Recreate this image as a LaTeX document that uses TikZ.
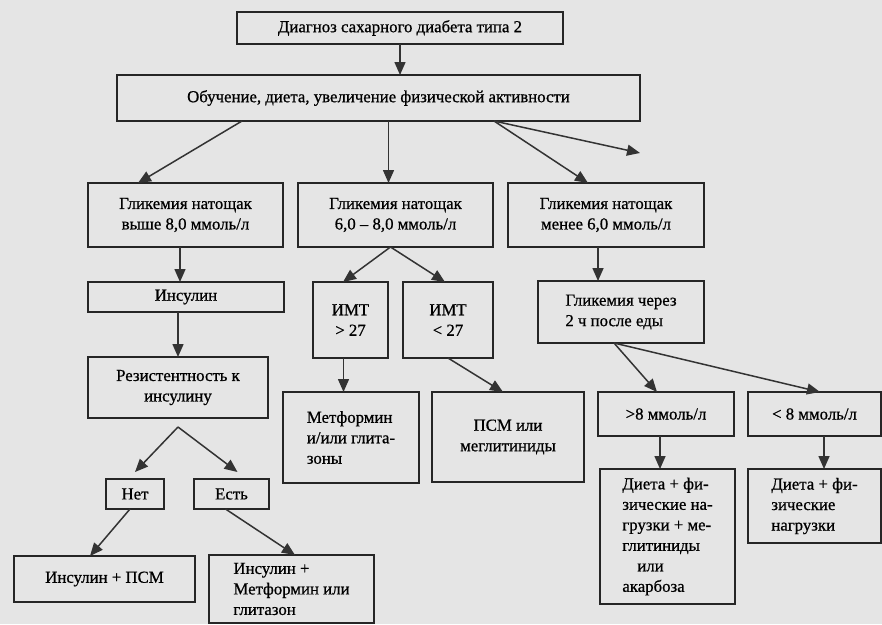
\documentclass[tikz,border=0pt]{standalone}
\usepackage{fontspec}
\setmainfont{Liberation Serif}
\newfontfamily\scanfont{Liberation Serif}[FakeBold=0.7,Ligatures=TeX]
\usetikzlibrary{arrows.meta}

\begin{document}
\begin{tikzpicture}
[x=1pt,y=-1pt,
  boxDecorate/.style={shape=rectangle,draw=black!85,line width=1.5pt,inner sep=2pt,outer sep=0pt,align=center,font=\scanfont\fontsize{16.8}{20.5}\selectfont},
  arrowDecorate/.style={-{Triangle[length=13pt,width=11pt]},line width=1.5pt,draw=black!80}]
%% page
\fill[black!10] (0,0) rectangle (882,624);
\useasboundingbox (0,0) rectangle (882,624);
%% boxes
\node (diag) at (400,28) [boxDecorate,minimum width=326pt,minimum height=32pt] {Диагноз сахарного диабета типа 2};
\node (obuch) at (378.5,98) [boxDecorate,minimum width=523pt,minimum height=46pt] {Обучение, диета, увеличение физической активности};
\node (glA) at (185.5,215) [boxDecorate,minimum width=195pt,minimum height=64pt] {Гликемия натощак\\выше 8,0 ммоль/л};
\node (glB) at (395.5,215) [boxDecorate,minimum width=195pt,minimum height=64pt] {Гликемия натощак\\6,0 – 8,0 ммоль/л};
\node (glC) at (606,215) [boxDecorate,minimum width=196pt,minimum height=64pt] {Гликемия натощак\\менее 6,0 ммоль/л};
\node (insulin) at (186,297) [boxDecorate,minimum width=196pt,minimum height=30pt] {Инсулин};
\node (resist) at (178,387.5) [boxDecorate,minimum width=180pt,minimum height=61pt] {Резистентность к\\инсулину};
\node (imtA) at (350.5,320) [boxDecorate,minimum width=75pt,minimum height=76pt] {ИМТ\\> 27};
\node (imtB) at (448,320) [boxDecorate,minimum width=90pt,minimum height=76pt] {ИМТ\\< 27};
\node (glPost) at (621,312) [boxDecorate,minimum width=166pt,minimum height=62pt,align=left] {Гликемия через\\2 ч после еды};
\node (metf) at (351,437.5) [boxDecorate,minimum width=136pt,minimum height=91pt,align=left] {Метформин\\и/или глита-\\зоны};
\node (psm) at (508,437) [boxDecorate,minimum width=152pt,minimum height=90pt] {ПСМ или\\меглитиниды};
\node (high) at (666,414) [boxDecorate,minimum width=136pt,minimum height=44pt] {>8 ммоль/л};
\node (low) at (814.5,414) [boxDecorate,minimum width=133pt,minimum height=44pt] {< 8 ммоль/л};
\node (dietA) at (667.5,536.5) [boxDecorate,minimum width=135pt,minimum height=135pt,align=left] {Диета + фи-\\зические на-\\грузки + ме-\\глитиниды\\\hspace*{15pt}или\\акарбоза};
\node (dietB) at (814.5,506) [boxDecorate,minimum width=133pt,minimum height=74pt,align=left] {Диета + фи-\\зические\\нагрузки};
\node (net) at (135,494) [boxDecorate,minimum width=58pt,minimum height=30pt] {Нет};
\node (est) at (231.5,494) [boxDecorate,minimum width=75pt,minimum height=30pt] {Есть};
\node (insPsm) at (104.5,579) [boxDecorate,minimum width=181pt,minimum height=46pt] {Инсулин + ПСМ};
\node (insMet) at (291.5,589) [boxDecorate,minimum width=165pt,minimum height=68pt,align=left] {Инсулин +\\Метформин или\\глитазон};
\coordinate (freeEnd) at (640,153);
%% arrows
\draw[arrowDecorate] (diag.south) -- (diag.south |- obuch.north);
\draw[arrowDecorate] ([xshift=125pt]obuch.south west) -- ([xshift=50pt]glA.north west);
\draw[arrowDecorate] ([xshift=-7pt]glB.north |- obuch.south) -- ([xshift=-7pt]glB.north);
\draw[arrowDecorate] ([xshift=377pt]obuch.south west) -- ([xshift=80pt]glC.north west);
\draw[arrowDecorate] ([xshift=377pt]obuch.south west) -- (freeEnd);
\draw[arrowDecorate] ([xshift=-6pt]insulin.north |- glA.south) -- ([xshift=-6pt]insulin.north);
\draw[arrowDecorate] (resist.north |- insulin.south) -- (resist.north);
\draw[arrowDecorate] ([xshift=-5pt]glB.south) -- ([xshift=30pt]imtA.north west);
\draw[arrowDecorate] ([xshift=-5pt]glB.south) -- ([xshift=42pt]imtB.north west);
\draw[arrowDecorate] ([xshift=-7pt]imtA.south) -- ([xshift=-7pt]imtA.south |- metf.north);
\draw[arrowDecorate] (imtB.south) -- ([xshift=71pt]psm.north west);
\draw[arrowDecorate] ([xshift=60pt]glPost.north west |- glC.south) -- ([xshift=60pt]glPost.north west);
\draw[arrowDecorate] ([xshift=76pt]glPost.south west) -- ([xshift=59pt]high.north west);
\draw[arrowDecorate] ([xshift=76pt]glPost.south west) -- ([xshift=72pt]low.north west);
\draw[arrowDecorate] ([xshift=-6pt]high.south) -- ([xshift=-6pt]high.south |- dietA.north);
\draw[arrowDecorate] ([xshift=9.5pt]low.south) -- ([xshift=9.5pt]low.south |- dietB.north);
\draw[arrowDecorate] ([yshift=-9pt]resist.south) -- ([yshift=7pt]net.north);
\draw[arrowDecorate] ([yshift=-9pt]resist.south) -- ([xshift=6pt,yshift=7pt]est.north);
\draw[arrowDecorate] ([xshift=-5pt]net.south) -- ([xshift=76pt]insPsm.north west);
\draw[arrowDecorate] ([xshift=-6pt]est.south) -- ([xshift=86pt]insMet.north west);
\end{tikzpicture}
\end{document}
